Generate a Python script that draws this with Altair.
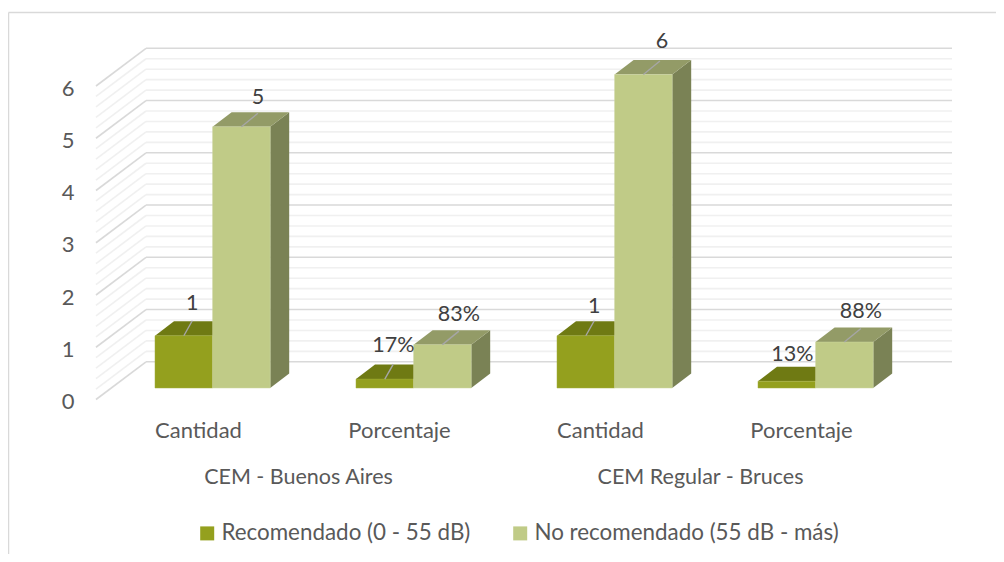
import altair as alt
import pandas as pd

# ---- values
categories = ["Cantidad", "Porcentaje", "Cantidad", "Porcentaje"]
groups = ["CEM - Buenos Aires", "CEM Regular - Bruces"]
series_names = ["Recomendado (0 - 55 dB)", "No recomendado (55 dB - más)"]
recomendado = [1, 0.17, 1, 0.13]
no_recomendado = [5, 0.83, 6, 0.88]
labels_rec = ["1", "17%", "1", "13%"]
labels_no = ["5", "83%", "6", "88%"]
y_ticks = [0, 1, 2, 3, 4, 5, 6]

# ---- styling
FRONT = ["#94a01e", "#c0cb87"]
TOP = ["#6f7a13", "#939b67"]
SIDE = ["#5f6910", "#7a8255"]
FONT = "Lato"
FS = 21.5
AXIS_TXT = "#595959"
LABEL_TXT = "#404040"

# ---- geometry (page pixels per data unit)
W, H = 988, 546
PX_X, PX_Y = 201.0, 52.25
X0_PAGE, Y0_PAGE = 198.0, 399.5


def ux(px):
    return (px - X0_PAGE) / PX_X


def uy(py):
    return (Y0_PAGE - py) / PX_Y


BAR_W = 57.6 / PX_X
BAR_L = -43.0 / PX_X          # left edge of first bar relative to category centre
BASE = 11.5 / PX_Y            # bars stand a little behind the front edge of the floor
DX, DY = 19.0 / PX_X, 14.5 / PX_Y   # bar depth
WALL_DX, WALL_DY = 50.0 / PX_X, 37.7 / PX_Y   # wall depth
WALL_L, WALL_R = ux(96), ux(952)

xs = alt.Scale(domain=[ux(8), ux(996)], nice=False, zero=False)
ys = alt.Scale(domain=[uy(554), uy(8)], nice=False, zero=False)

cat_expr = "[" + ",".join(f"'{c}'" for c in categories) + "][datum.value]"
X_AXIS = alt.Axis(values=[0, 1, 2, 3], labelExpr=cat_expr, domain=False, ticks=False, grid=False,
                  offset=-134, labelPadding=0, labelFont=FONT, labelFontSize=22, labelColor=AXIS_TXT,
                  labelBaseline="top", labelFlush=False, labelOverlap=False, title=None)
Y_AXIS = alt.Axis(values=y_ticks, domain=False, ticks=False, grid=False, offset=-78, labelPadding=12,
                  labelOffset=2, labelFont=FONT, labelFontSize=22, labelColor=AXIS_TXT, format="d", title=None)


def X(f="x"):
    return alt.X(f"{f}:Q", scale=xs, axis=X_AXIS)


def Y(f="y"):
    return alt.Y(f"{f}:Q", scale=ys, axis=Y_AXIS)


# ---- wall grid
grid = []
for k in range(0, 31):
    v = k / 5
    major = k % 5 == 0
    grid.append(dict(x=WALL_L, x2=WALL_L + WALL_DX, y=v, y2=v + WALL_DY, major=major))
    grid.append(dict(x=WALL_L + WALL_DX, x2=WALL_R, y=v + WALL_DY, y2=v + WALL_DY, major=major))
grid = pd.DataFrame(grid)


def grid_layer(major, color, width):
    return alt.Chart(grid[grid.major == major]).mark_rule(color=color, strokeWidth=width).encode(
        x=X(), x2="x2:Q", y=Y(), y2="y2:Q")


minor_grid = grid_layer(False, "#f0f0f0", 1.6)
major_grid = grid_layer(True, "#d9d9d9", 1.6)

# ---- chart frame (top and left sides)
frame = pd.DataFrame([
    dict(x=ux(8.5), x2=ux(996), y=uy(12.5), y2=uy(12.5)),
    dict(x=ux(8.5), x2=ux(8.5), y=uy(12.5), y2=uy(554)),
])
frame_layer = alt.Chart(frame).mark_rule(color="#d9d9d9", strokeWidth=1.5).encode(
    x=X(), x2="x2:Q", y=Y(), y2="y2:Q")


# ---- faces
def faces(values, s):
    fronts, tops, sides = [], [], []
    for i, v in enumerate(values):
        x0 = i + BAR_L + s * BAR_W
        x1 = x0 + BAR_W
        b, t = BASE, BASE + v
        fronts.append(dict(x=x0, x2=x1, y=b, y2=t, serie=series_names[s]))
        for x, lo, hi in [(x0, t, t), (x0 + DX, t, t + DY), (x1, t, t + DY), (x1 + DX, t + DY, t + DY)]:
            tops.append(dict(bar=i, x=x, y=lo, y2=hi))
        for x, lo, hi in [(x1, b, t), (x1 + DX, b + DY, t + DY)]:
            sides.append(dict(bar=i, x=x, y=lo, y2=hi))
    return pd.DataFrame(fronts), pd.DataFrame(tops), pd.DataFrame(sides)


def bars(values, s):
    fronts, tops, sides = faces(values, s)
    side = alt.Chart(sides).mark_area(color=SIDE[s], orient="vertical").encode(
        x=X(), y=Y(), y2="y2:Q", detail="bar:N")
    top = alt.Chart(tops).mark_area(color=TOP[s], orient="vertical").encode(
        x=X(), y=Y(), y2="y2:Q", detail="bar:N")
    front = alt.Chart(fronts).mark_bar(stroke="#ccd4a0" if s else "#a3ae3c", strokeWidth=0.5).encode(
        x=X(), x2="x2:Q", y=Y(), y2="y2:Q",
        color=alt.Color("serie:N",
                        scale=alt.Scale(domain=series_names, range=FRONT),
                        legend=alt.Legend(orient="none", legendX=188, legendY=514, direction="horizontal",
                                          title=None, symbolType="square", symbolSize=196,
                                          symbolStrokeWidth=0, labelFont=FONT, labelFontSize=22.4,
                                          labelColor=AXIS_TXT, labelLimit=400, columnPadding=38,
                                          labelOffset=3, symbolOpacity=1)))
    return [side, top, front]


# ---- value labels and their leader lines
LEADER = [(8.5, 15.0), (16.5, 13.5)]
LIFT = 17.5
NUDGE = [[(0, 1), (0, -1), (0, 4), (-3, 6)], [(0, 2), (0, 1), (2, -2), (0, 1)]]   # page pixels, right / down


def annotations(values, texts, s, skip_leader=()):
    rules, txt = [], []
    for i, (v, t) in enumerate(zip(values, texts)):
        xc = i + BAR_L + (s + 0.5) * BAR_W
        yt = BASE + v
        ex, ey = xc + LEADER[s][0] / PX_X, yt + LEADER[s][1] / PX_Y
        if i not in skip_leader:
            rules.append(dict(x=xc, x2=ex, y=yt, y2=ey))
        nx, ny = NUDGE[s][i]
        txt.append(dict(x=ex + nx / PX_X, y=ey + (LIFT - ny) / PX_Y, t=t))
    return rules, txt


r1, t1 = annotations(recomendado, labels_rec, 0, skip_leader=(3,))
r2, t2 = annotations(no_recomendado, labels_no, 1)
leader = alt.Chart(pd.DataFrame(r1 + r2)).mark_rule(color="#a6a6a6", strokeWidth=1.4).encode(
    x=X(), x2="x2:Q", y=Y(), y2="y2:Q")
value_text = alt.Chart(pd.DataFrame(t1 + t2)).mark_text(
    font=FONT, fontSize=FS, color=LABEL_TXT, align="center", baseline="middle").encode(
    x=X(), y=Y(), text="t:N")

group_text = alt.Chart(pd.DataFrame({"x": [0.5, 2.5], "y": [uy(478)] * 2, "t": groups})).mark_text(
    font=FONT, fontSize=FS, color=AXIS_TXT, align="center", baseline="middle").encode(
    x=X(), y=Y(), text="t:N")

layers = [frame_layer, minor_grid, major_grid] + bars(recomendado, 0) + bars(no_recomendado, 1) + [
    leader, value_text, group_text]

chart = alt.layer(*layers).properties(
    width=W, height=H,
    autosize=alt.AutoSizeParams(type="none"),
    padding=0,
).configure_view(stroke=None)

chart.save("out.html", embed_options={"renderer": "svg", "actions": False})
